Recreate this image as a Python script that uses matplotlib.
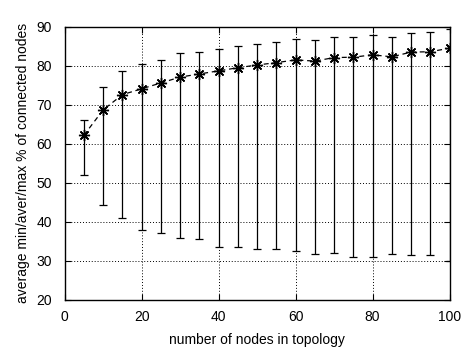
import numpy as np
import matplotlib.pyplot as plt

plt.rcParams['font.family'] = ['Liberation Sans', 'DejaVu Sans']

nodes = [5, 10, 15, 20, 25, 30, 35, 40, 45, 50, 55, 60, 65, 70, 75, 80, 85, 90, 95, 100]
aver = [62.2, 68.7, 72.6, 74.1, 75.6, 77.1, 77.9, 78.7, 79.5, 80.2, 80.8, 81.5, 81.2, 82.1, 82.2, 82.8, 82.3, 83.5, 83.6, 84.5]
vmax = [66.0, 74.5, 78.7, 80.4, 81.6, 83.2, 83.6, 84.4, 85.1, 85.7, 86.2, 86.8, 86.5, 87.3, 87.5, 88.0, 87.5, 88.5, 88.6, 89.3]
vmin = [52.0, 44.3, 41.1, 37.8, 37.1, 35.8, 35.7, 33.6, 33.5, 33.0, 33.0, 32.5, 31.7, 31.9, 30.9, 30.9, 31.7, 31.6, 31.5, 30.0]

aver = np.array(aver)
yerr = [aver - np.array(vmin), np.array(vmax) - aver]

fig = plt.figure(figsize=(4.62, 3.52), dpi=100)
ax = fig.add_axes([0.140, 0.148, 0.833, 0.776])

ax.errorbar(nodes, aver, yerr=yerr, fmt='none', ecolor='black', elinewidth=0.9,
            capsize=3, capthick=0.9)
ax.plot(nodes, aver, color='black', ls=(0, (4, 3)), lw=0.9,
        marker=(8, 2, 0), ms=8, mew=1.0)

ax.set_xlim(0, 100)
ax.set_ylim(20, 90)
ax.set_xticks(range(0, 101, 20))
ax.set_yticks(range(20, 91, 10))
ax.grid(True, color='black', ls=(0, (1, 2)), lw=0.7)
ax.tick_params(direction='in', top=True, right=True, labelsize=10, length=4)
ax.tick_params(axis='x', pad=7)
ax.tick_params(axis='y', pad=9)
for s in ax.spines.values():
    s.set_linewidth(1.0)

ax.set_xlabel('number of nodes in topology', fontsize=10, labelpad=7)
ax.set_ylabel('average min/aver/max % of connected nodes', fontsize=10, labelpad=5)

fig.savefig('out.png', dpi=100)
